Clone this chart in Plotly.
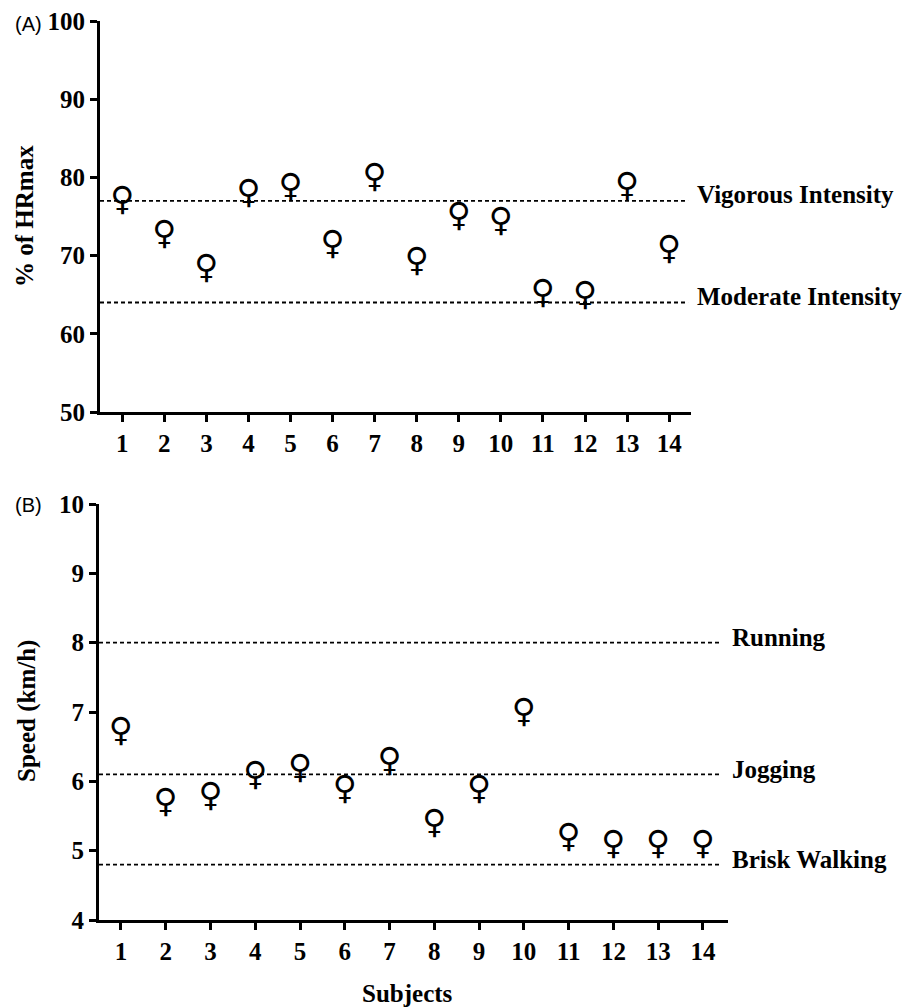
import plotly.graph_objects as go

# ---- data ----
subjects = list(range(1, 15))
hr_percent = [76.9, 72.6, 68.2, 77.8, 78.6, 71.2, 79.8, 69.1, 74.8, 74.2, 65.0, 64.7, 78.7, 70.6]
speed_kmh = [6.7, 5.67, 5.77, 6.07, 6.17, 5.87, 6.27, 5.37, 5.87, 6.98, 5.17, 5.07, 5.07, 5.07]

hr_ref_values = [77, 64]
hr_ref_labels = ["Vigorous Intensity", "Moderate Intensity"]
speed_ref_values = [8, 6.1, 4.8]
speed_ref_labels = ["Running", "Jogging", "Brisk Walking"]

W, H = 920, 1007


def px(x):
    return x / W


def py(y):
    return 1 - y / H


SERIF = "Liberation Serif"
GLYPH = dict(family="DejaVu Sans", size=33, color="black", weight=700)

fig = go.Figure()
fig.add_trace(go.Scatter(
    x=subjects, y=hr_percent, mode="text", text=["♀"] * len(subjects),
    textposition="middle center", textfont=GLYPH,
    xaxis="x", yaxis="y", showlegend=False, hoverinfo="skip"))
fig.add_trace(go.Scatter(
    x=subjects, y=speed_kmh, mode="text", text=["♀"] * len(subjects),
    textposition="middle center", textfont=GLYPH,
    xaxis="x2", yaxis="y2", showlegend=False, hoverinfo="skip"))

axis_common = dict(
    showgrid=False, zeroline=False, showline=True, linecolor="black", linewidth=3,
    ticks="outside", ticklen=7, tickwidth=2.5, tickcolor="black", automargin=False,
    ticklabeloverflow="allow",
    tickfont=dict(family=SERIF, size=25, color="black", weight=700),
)

fig.update_layout(
    width=W, height=H, margin=dict(l=0, r=0, t=0, b=0, pad=0, autoexpand=False),
    plot_bgcolor="white", paper_bgcolor="white", showlegend=False,
    xaxis=dict(domain=[px(100), px(691)], range=[0.47, 14.52],
               tickvals=subjects, anchor="y", **axis_common),
    yaxis=dict(domain=[py(412), py(21)], range=[50, 100], dtick=10,
               anchor="x", **axis_common),
    xaxis2=dict(domain=[px(99), px(728)], range=[0.51, 14.56],
                tickvals=subjects, anchor="y2", **axis_common),
    yaxis2=dict(domain=[py(920), py(504)], range=[4, 10], dtick=1,
                anchor="x2", **axis_common),
)

LABEL_FONT = dict(family=SERIF, size=25, color="black", weight=700)
shapes = []
annotations = []
for v, lab in zip(hr_ref_values, hr_ref_labels):
    shapes.append(dict(type="line", xref="x domain", yref="y", x0=0, x1=0.995, y0=v, y1=v,
                       line=dict(color="black", width=1.8, dash="4px,3px")))
    annotations.append(dict(xref="paper", yref="y", x=px(695), y=v, xanchor="left",
                            yanchor="middle", yshift=6, showarrow=False, text=lab,
                            font=LABEL_FONT))
for v, lab in zip(speed_ref_values, speed_ref_labels):
    shapes.append(dict(type="line", xref="x2 domain", yref="y2", x0=0, x1=0.99, y0=v, y1=v,
                       line=dict(color="black", width=1.8, dash="4px,3px")))
    annotations.append(dict(xref="paper", yref="y2", x=px(730), y=v, xanchor="left",
                            yanchor="middle", yshift=5, showarrow=False, text=lab,
                            font=LABEL_FONT))

annotations += [
    dict(xref="paper", yref="paper", x=px(24), y=py(216), text="% of HRmax",
         textangle=-90, showarrow=False, xanchor="center", yanchor="middle", font=LABEL_FONT),
    dict(xref="paper", yref="paper", x=px(27), y=py(711), text="Speed (km/h)",
         textangle=-90, showarrow=False, xanchor="center", yanchor="middle", font=LABEL_FONT),
    dict(xref="paper", yref="paper", x=px(407), y=py(993), text="Subjects",
         showarrow=False, xanchor="center", yanchor="middle", font=LABEL_FONT),
    dict(xref="paper", yref="paper", x=px(13), y=py(24), text="(A)",
         showarrow=False, xanchor="left", yanchor="middle",
         font=dict(family="Liberation Sans", size=20, color="black")),
    dict(xref="paper", yref="paper", x=px(13), y=py(505), text="(B)",
         showarrow=False, xanchor="left", yanchor="middle",
         font=dict(family="Liberation Sans", size=20, color="black")),
]

fig.update_layout(shapes=shapes, annotations=annotations)
fig.write_html("out.html", config={"displayModeBar": False},
               post_script="document.body.style.margin='0';")
